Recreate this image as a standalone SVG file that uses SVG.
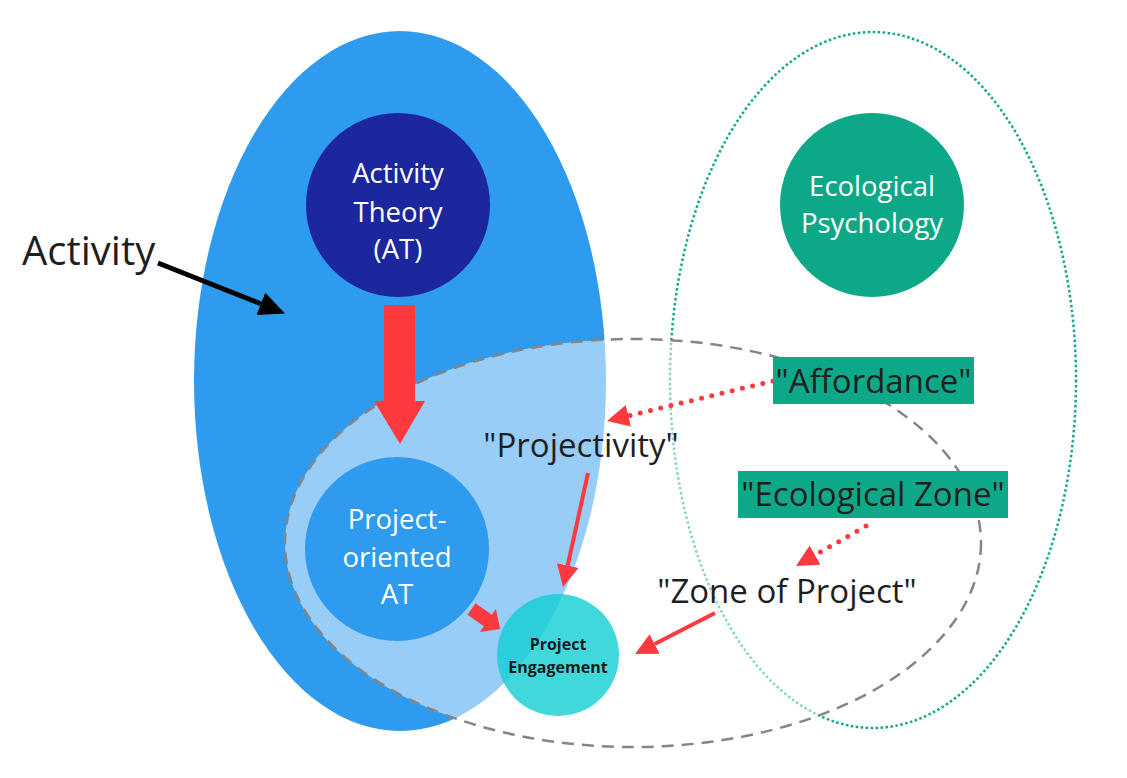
<svg xmlns="http://www.w3.org/2000/svg" width="1127" height="778" viewBox="0 0 1127 778">
<style>
.t{font-family:"Open Sans","Noto Sans","Liberation Sans",sans-serif;}
.w{fill:#ffffff;font-size:27.5px;text-anchor:middle;}
.d{fill:#1f1f1f;font-size:33px;text-anchor:middle;}
.red{stroke:#ff3a3f;fill:none;}
.dot{stroke-width:5;stroke-linecap:round;stroke-dasharray:0 10.5;}
.sol{stroke-width:4;}
</style>
<defs>
<marker id="rh" viewBox="0 0 22 22" refX="0" refY="11" markerWidth="22" markerHeight="22" markerUnits="userSpaceOnUse" orient="auto">
<path d="M0,0 L22,11 L0,22 z" fill="#ff3a3f"/>
</marker>
<marker id="bh" viewBox="0 0 26 24" refX="0" refY="12" markerWidth="26" markerHeight="24" markerUnits="userSpaceOnUse" orient="auto">
<path d="M0,0 L26,12 L0,24 z" fill="#000000"/>
</marker>
</defs>
<rect width="1127" height="778" fill="#ffffff"/>
<g id="activity-area">
<ellipse cx="400" cy="381" rx="206" ry="350" fill="#2e9bee"/>
</g>
<g id="ecological-area">
<ellipse cx="873" cy="380" rx="203" ry="348" fill="none" stroke="#0ea88a" stroke-width="2.5" stroke-dasharray="2.5 2.5"/>
</g>
<g id="project-zone">
<ellipse cx="633" cy="543" rx="348" ry="204" fill="#ffffff" fill-opacity="0.5" stroke="#858585" stroke-width="2.5" stroke-dasharray="12 8"/>
</g>
<g id="activity-theory">
<circle cx="398" cy="205" r="92" fill="#1c279d"/>
<text class="t w" x="398" y="183">Activity</text>
<text class="t w" x="398" y="222">Theory</text>
<text class="t w" x="398" y="259">(AT)</text>
</g>
<g id="ecological-psychology">
<circle cx="872" cy="205" r="92" fill="#0da887"/>
<text class="t w" x="872" y="196">Ecological</text>
<text class="t w" x="872" y="233">Psychology</text>
</g>
<g id="project-oriented-at">
<circle cx="397" cy="549" r="92" fill="#2e9bee"/>
<text class="t w" x="397" y="529">Project-</text>
<text class="t w" x="397" y="567">oriented</text>
<text class="t w" x="397" y="604">AT</text>
</g>
<g id="project-engagement">
<circle cx="558" cy="655" r="61" fill="#12ced3" fill-opacity="0.8"/>
<text class="t" x="558" y="650" font-size="16" font-weight="bold" fill="#1a1a1a" text-anchor="middle">Project</text>
<text class="t" x="558" y="673" font-size="16" font-weight="bold" fill="#1a1a1a" text-anchor="middle">Engagement</text>
</g>
<g id="connectors">
<polygon points="384,305 415,305 415,401 425,401 400,444 374,401 384,401" fill="#ff3a3f"/>
<polygon transform="translate(471.5,609) rotate(35)" points="0,-7 20,-7 20,-14 35,0 20,14 20,7 0,7" fill="#ff3a3f"/>
<line x1="158" y1="263" x2="260.8" y2="303.8" stroke="#000000" stroke-width="5" marker-end="url(#bh)"/>
<line class="red sol" x1="588" y1="473" x2="567.7" y2="565.5" marker-end="url(#rh)"/>
<line class="red sol" x1="715" y1="613" x2="654.6" y2="644" marker-end="url(#rh)"/>
<line class="red dot" x1="773" y1="381" x2="628.4" y2="415.8" marker-end="url(#rh)"/>
<line class="red dot" x1="866" y1="526" x2="815.1" y2="555.1" marker-end="url(#rh)"/>
</g>
<g id="label-activity">
<text class="t" x="22" y="265" font-size="40" fill="#1f1f1f">Activity</text>
</g>
<g id="label-projectivity">
<text class="t d" x="581" y="457">"Projectivity"</text>
</g>
<g id="label-affordance">
<rect x="773" y="357" width="201" height="47" fill="#0da887"/>
<text class="t d" x="873.5" y="393">"Affordance"</text>
</g>
<g id="label-ecological-zone">
<rect x="738" y="471" width="270" height="47" fill="#0da887"/>
<text class="t d" x="873" y="506">"Ecological Zone"</text>
</g>
<g id="label-zone-of-project">
<text class="t d" x="787" y="603">"Zone of Project"</text>
</g>
</svg>
